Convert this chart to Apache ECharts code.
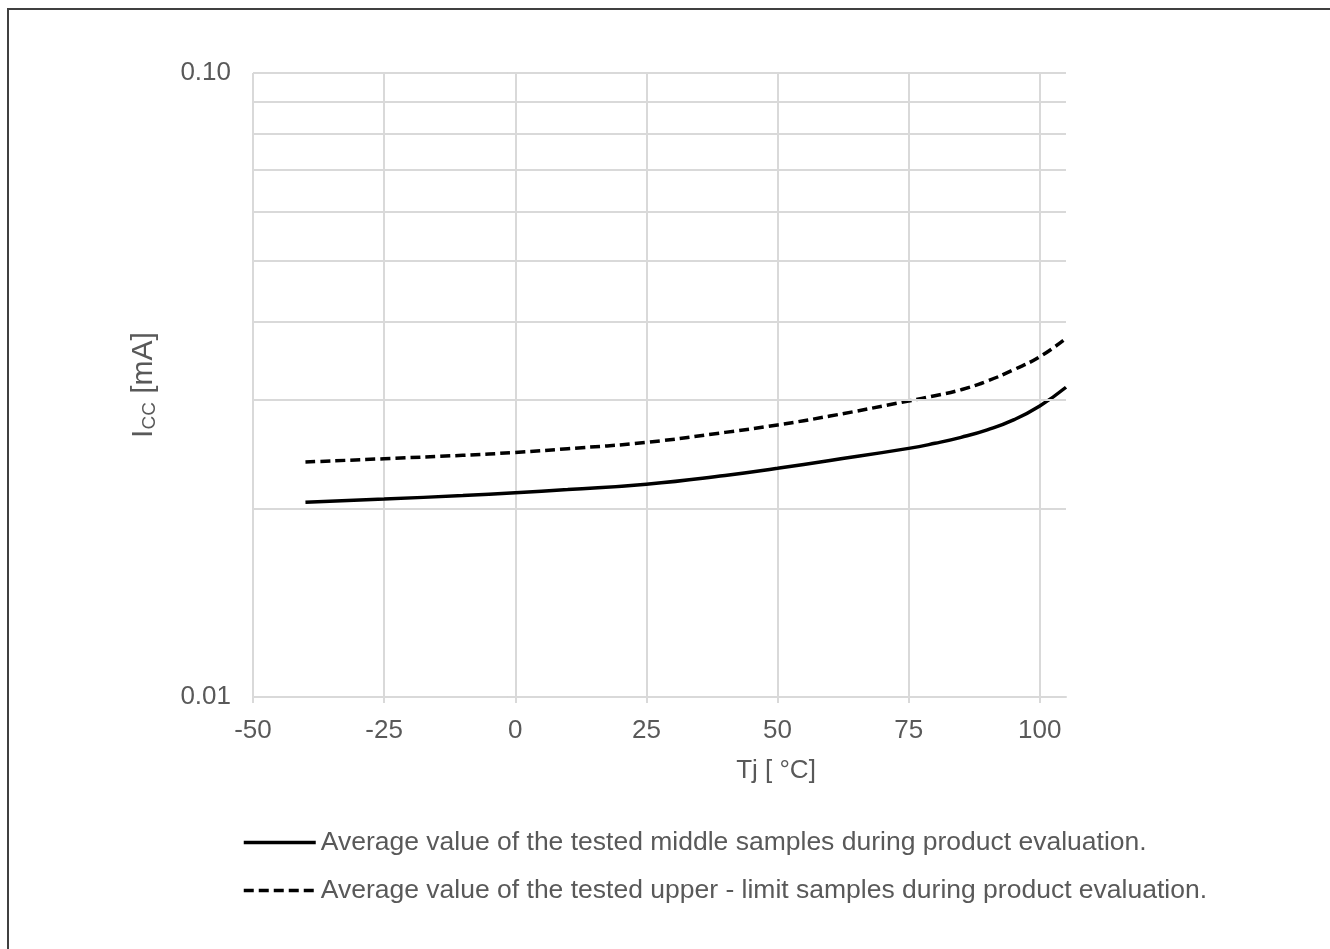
<!DOCTYPE html>
<html>
<head>
<meta charset="utf-8">
<title>ICC vs Tj</title>
<script src="https://cdn.jsdelivr.net/npm/echarts@6/dist/echarts.min.js"></script>
<style>
  html, body { margin: 0; padding: 0; background: #ffffff; }
  #chart { width: 1330px; height: 949px; }
</style>
</head>
<body>
<div id="chart"></div>
<script>
// Junction temperature points (°C)
const temps = [-40, -25, -10, 0, 10, 25, 40, 50, 60, 75, 80, 85, 90, 95, 100, 105];

// Supply current (mA), middle samples
const icMiddle = [0.02051, 0.02076, 0.02103, 0.02125, 0.02150, 0.02193, 0.02265, 0.02326, 0.02394, 0.02503, 0.02550, 0.02607, 0.02680, 0.02780, 0.02927, 0.03136];

// Supply current (mA), upper-limit samples
const icUpper = [0.02380, 0.02409, 0.02440, 0.02466, 0.02500, 0.02559, 0.02655, 0.02729, 0.02820, 0.02981, 0.03040, 0.03108, 0.03209, 0.03345, 0.03510, 0.03757];

// Axis ticks
const xTicks = [-50, -25, 0, 25, 50, 75, 100];
const yMinorGrid = [0.02, 0.03, 0.04, 0.05, 0.06, 0.07, 0.08, 0.09];

const seriesNames = [
  'Average value of the tested middle samples during product evaluation.',
  'Average value of the tested upper - limit samples during product evaluation.'
];

const textColor = '#595959';
const gridColor = '#d9d9d9';
const fontFamily = '"Liberation Sans", Arial, sans-serif';

const chart = echarts.init(document.getElementById('chart'));

chart.setOption({
  animation: false,
  backgroundColor: '#ffffff',
  textStyle: { fontFamily: fontFamily },
  graphic: [{
    type: 'rect',
    shape: { x: 8, y: 9, width: 1400, height: 1000 },
    style: { fill: 'none', stroke: '#404040', lineWidth: 2 },
    silent: true
  }],
  grid: { left: 253, right: 264, top: 73, bottom: 252, containLabel: false },
  legend: {
    data: seriesNames,
    orient: 'vertical',
    left: 242,
    top: 829,
    padding: 0,
    itemWidth: 72,
    itemHeight: 20,
    itemGap: 21,
    itemStyle: { opacity: 0 },
    lineStyle: { width: 3.5 },
    textStyle: { color: textColor, fontSize: 26.5, fontFamily: fontFamily }
  },
  xAxis: {
    type: 'value',
    min: -50,
    max: 105,
    interval: 25,
    name: 'Tj [ °C]',
    nameLocation: 'middle',
    nameGap: 61,
    nameTextStyle: { color: textColor, fontSize: 26, padding: [0, 0, 0, 233] },
    axisLine: { show: true, onZero: false, lineStyle: { color: gridColor, width: 2 } },
    axisTick: { show: true, length: 6, customValues: xTicks, lineStyle: { color: gridColor, width: 2 } },
    axisLabel: { color: textColor, fontSize: 26, margin: 21, customValues: xTicks },
    splitLine: { show: true, lineStyle: { color: gridColor, width: 2 } }
  },
  yAxis: {
    type: 'log',
    logBase: 10,
    min: 0.01,
    max: 0.1,
    name: '{m|I}{s|CC}{m| [mA]}',
    nameLocation: 'middle',
    nameRotate: 90,
    nameGap: 94,
    nameTextStyle: {
      color: textColor,
      rich: {
        m: { fontSize: 30, lineHeight: 31, verticalAlign: 'bottom', color: textColor, fontFamily: fontFamily },
        s: { fontSize: 19, lineHeight: 20, verticalAlign: 'bottom', color: textColor, fontFamily: fontFamily }
      }
    },
    axisLine: { show: true, lineStyle: { color: gridColor, width: 2 } },
    axisTick: { show: true, length: 8, lineStyle: { color: gridColor, width: 2 } },
    axisLabel: {
      color: textColor,
      fontSize: 26,
      margin: 22,
      formatter: function (v) { return Number(v).toFixed(2); }
    },
    minorTick: { show: false },
    splitLine: { show: true, lineStyle: { color: gridColor, width: 2 } }
  },
  series: [
    {
      name: 'yGrid',
      type: 'line',
      data: [],
      z: 0,
      silent: true,
      markLine: {
        silent: true,
        symbol: 'none',
        label: { show: false },
        lineStyle: { color: gridColor, width: 2, type: 'solid' },
        data: yMinorGrid.map(function (v) { return { yAxis: v }; })
      }
    },
    {
      name: seriesNames[0],
      type: 'line',
      smooth: true,
      symbol: 'none',
      z: 3,
      lineStyle: { color: '#000000', width: 3.5, type: 'solid' },
      itemStyle: { color: '#000000' },
      data: temps.map(function (t, i) { return [t, icMiddle[i]]; })
    },
    {
      name: seriesNames[1],
      type: 'line',
      smooth: true,
      symbol: 'none',
      z: 3,
      lineStyle: { color: '#000000', width: 3.5, type: [10, 5] },
      itemStyle: { color: '#000000' },
      data: temps.map(function (t, i) { return [t, icUpper[i]]; })
    }
  ]
});
</script>
</body>
</html>
